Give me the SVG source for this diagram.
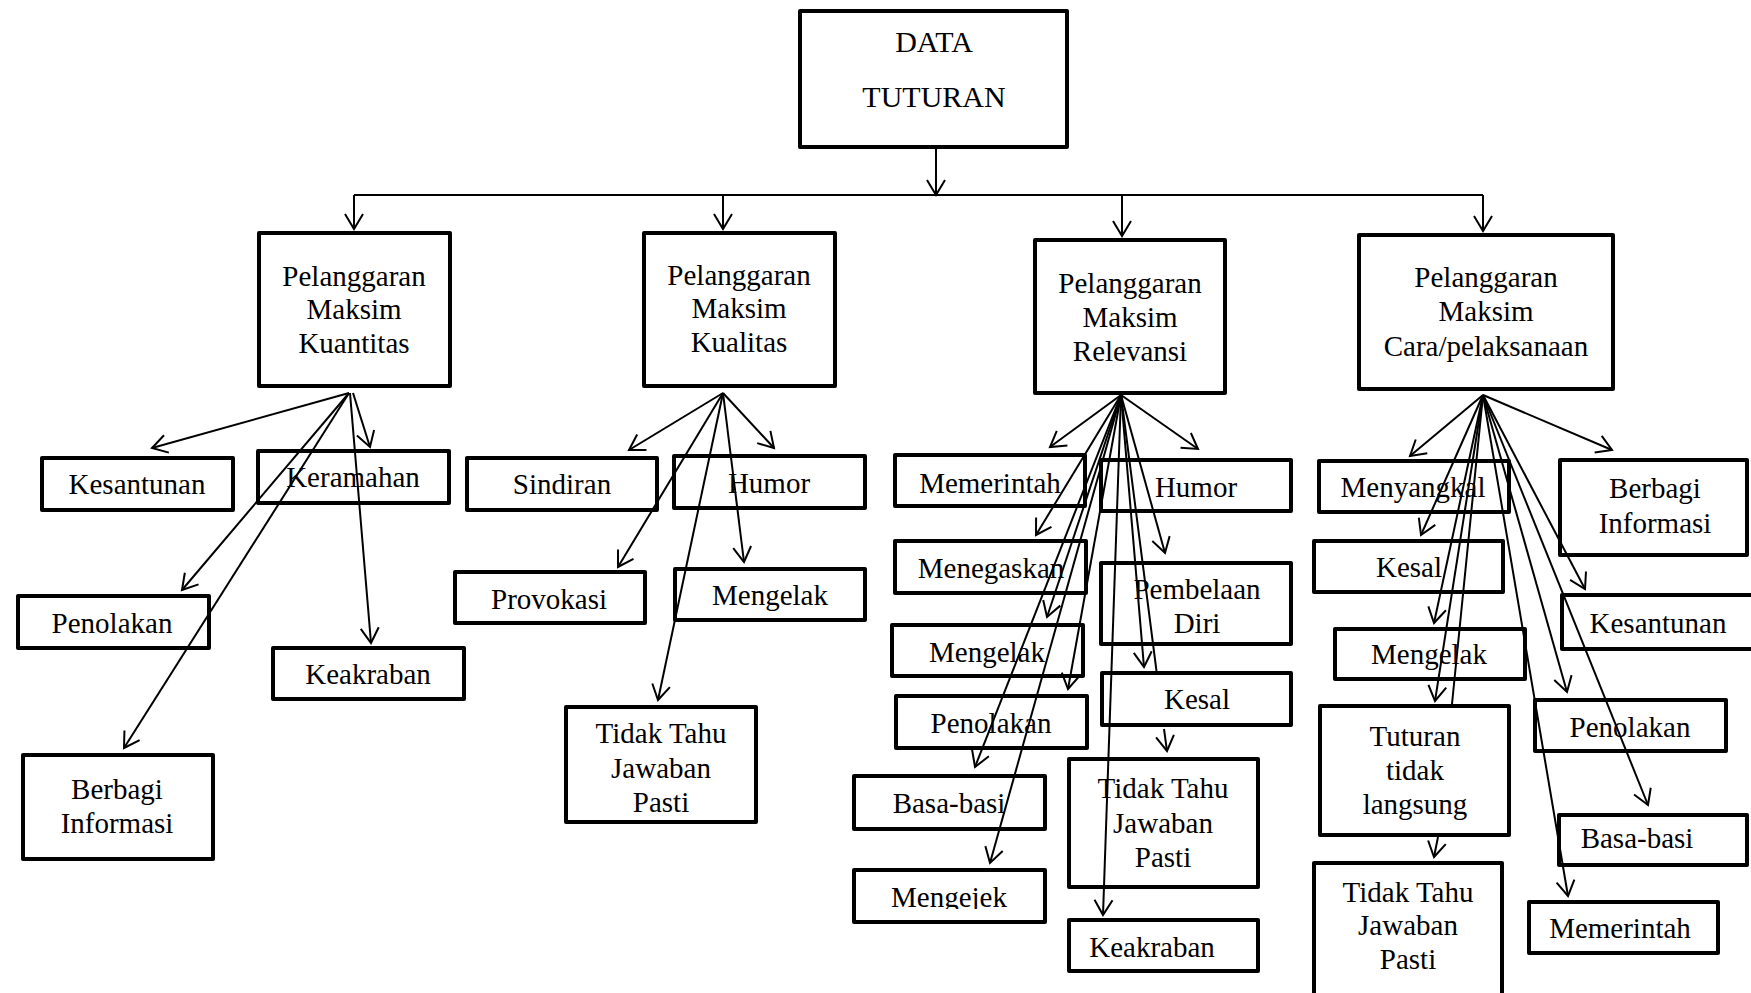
<svg xmlns="http://www.w3.org/2000/svg" width="1751" height="993" viewBox="0 0 1751 993">
<style>
.box{fill:#fff;stroke:#000;stroke-width:4;stroke-linejoin:round}
.t{font-family:"Liberation Serif","Times New Roman",serif;font-size:29px;fill:#000;text-anchor:middle}
.big{font-size:30px}
.c{fill:none;stroke:#000;stroke-width:2;marker-end:url(#ah)}
.hl{fill:none;stroke:#000;stroke-width:2}
</style>
<defs>
<marker id="ah" markerUnits="userSpaceOnUse" markerWidth="30" markerHeight="30" viewBox="-20 -15 30 30" refX="0" refY="0" orient="auto" overflow="visible">
<path d="M-15,-9 L0,0 L-15,9" fill="none" stroke="#000" stroke-width="2"/>
</marker>
<clipPath id="clipMengejek"><rect x="854" y="870" width="191" height="39"/></clipPath>
</defs>

<g id="root"><rect class="box" x="800" y="11" width="267" height="136"/>
<text class="t big" x="934" y="52">DATA</text><text class="t big" x="934" y="107">TUTURAN</text></g>

<g id="kuantitas"><rect class="box" x="259" y="233" width="191" height="153"/>
<text class="t" x="354" y="286">Pelanggaran</text><text class="t" x="354" y="319">Maksim</text><text class="t" x="354" y="353">Kuantitas</text></g>
<g id="kualitas"><rect class="box" x="644" y="233" width="191" height="153"/>
<text class="t" x="739" y="285">Pelanggaran</text><text class="t" x="739" y="318">Maksim</text><text class="t" x="739" y="352">Kualitas</text></g>
<g id="relevansi"><rect class="box" x="1035" y="240" width="190" height="153"/>
<text class="t" x="1130" y="293">Pelanggaran</text><text class="t" x="1130" y="327">Maksim</text><text class="t" x="1130" y="361">Relevansi</text></g>
<g id="cara"><rect class="box" x="1359" y="235" width="254" height="154"/>
<text class="t" x="1486" y="287">Pelanggaran</text><text class="t" x="1486" y="321">Maksim</text><text class="t" x="1486" y="356">Cara/pelaksanaan</text></g>

<g id="k1-kesantunan"><rect class="box" x="42" y="458" width="191" height="52"/><text class="t" x="137" y="494">Kesantunan</text></g>
<g id="k1-keramahan"><rect class="box" x="258" y="451" width="191" height="52"/><text class="t" x="353" y="487">Keramahan</text></g>
<g id="k1-penolakan"><rect class="box" x="18" y="596" width="191" height="52"/><text class="t" x="112" y="633">Penolakan</text></g>
<g id="k1-keakraban"><rect class="box" x="273" y="648" width="191" height="51"/><text class="t" x="368" y="684">Keakraban</text></g>
<g id="k1-berbagi"><rect class="box" x="23" y="755" width="190" height="104"/><text class="t" x="117" y="799">Berbagi</text><text class="t" x="117" y="833">Informasi</text></g>

<g id="k2-sindiran"><rect class="box" x="467" y="458" width="190" height="52"/><text class="t" x="562" y="494">Sindiran</text></g>
<g id="k2-humor"><rect class="box" x="674" y="456" width="191" height="52"/><text class="t" x="769" y="493">Humor</text></g>
<g id="k2-provokasi"><rect class="box" x="455" y="572" width="190" height="51"/><text class="t" x="549" y="609">Provokasi</text></g>
<g id="k2-mengelak"><rect class="box" x="675" y="569" width="190" height="51"/><text class="t" x="770" y="605">Mengelak</text></g>
<g id="k2-tidaktahu"><rect class="box" x="566" y="707" width="190" height="115"/><text class="t" x="661" y="743">Tidak Tahu</text><text class="t" x="661" y="778">Jawaban</text><text class="t" x="661" y="812">Pasti</text></g>

<g id="k3-memerintah"><rect class="box" x="895" y="455" width="190" height="51"/><text class="t" x="990" y="493">Memerintah</text></g>
<g id="k3-humor"><rect class="box" x="1101" y="460" width="190" height="51"/><text class="t" x="1196" y="497">Humor</text></g>
<g id="k3-menegaskan"><rect class="box" x="895" y="541" width="191" height="52"/><text class="t" x="991" y="578">Menegaskan</text></g>
<g id="k3-pembelaan"><rect class="box" x="1101" y="563" width="190" height="81"/><text class="t" x="1197" y="599">Pembelaan</text><text class="t" x="1197" y="633">Diri</text></g>
<g id="k3-mengelak"><rect class="box" x="892" y="625" width="191" height="51"/><text class="t" x="987" y="662">Mengelak</text></g>
<g id="k3-kesal"><rect class="box" x="1102" y="673" width="189" height="52"/><text class="t" x="1197" y="709">Kesal</text></g>
<g id="k3-penolakan"><rect class="box" x="896" y="696" width="191" height="52"/><text class="t" x="991" y="733">Penolakan</text></g>
<g id="k3-basabasi"><rect class="box" x="854" y="776" width="191" height="53"/><text class="t" x="949" y="813">Basa-basi</text></g>
<g id="k3-mengejek"><rect class="box" x="854" y="870" width="191" height="52"/><text class="t" x="949" y="907" clip-path="url(#clipMengejek)">Mengejek</text></g>
<g id="k3-tidaktahu"><rect class="box" x="1069" y="759" width="189" height="128"/><text class="t" x="1163" y="798">Tidak Tahu</text><text class="t" x="1163" y="833">Jawaban</text><text class="t" x="1163" y="867">Pasti</text></g>
<g id="k3-keakraban"><rect class="box" x="1069" y="920" width="189" height="51"/><text class="t" x="1152" y="957">Keakraban</text></g>

<g id="k4-menyangkal"><rect class="box" x="1319" y="461" width="190" height="51"/><text class="t" x="1413" y="497">Menyangkal</text></g>
<g id="k4-berbagi"><rect class="box" x="1560" y="460" width="187" height="95"/><text class="t" x="1655" y="498">Berbagi</text><text class="t" x="1655" y="533">Informasi</text></g>
<g id="k4-kesal"><rect class="box" x="1314" y="541" width="189" height="51"/><text class="t" x="1409" y="577">Kesal</text></g>
<g id="k4-kesantunan"><rect class="box" x="1562" y="595" width="200" height="54"/><text class="t" x="1658" y="633">Kesantunan</text></g>
<g id="k4-mengelak"><rect class="box" x="1335" y="629" width="190" height="50"/><text class="t" x="1429" y="664">Mengelak</text></g>
<g id="k4-penolakan"><rect class="box" x="1535" y="700" width="191" height="51"/><text class="t" x="1630" y="737">Penolakan</text></g>
<g id="k4-basabasi"><rect class="box" x="1559" y="815" width="188" height="50"/><text class="t" x="1637" y="848">Basa-basi</text></g>
<g id="k4-memerintah"><rect class="box" x="1529" y="902" width="189" height="51"/><text class="t" x="1620" y="938">Memerintah</text></g>
<g id="k4-tuturan"><rect class="box" x="1320" y="706" width="189" height="129"/><text class="t" x="1415" y="746">Tuturan</text><text class="t" x="1415" y="780">tidak</text><text class="t" x="1415" y="814">langsung</text></g>
<g id="k4-tidaktahu"><rect class="box" x="1314" y="863" width="188" height="140"/><text class="t" x="1408" y="902">Tidak Tahu</text><text class="t" x="1408" y="935">Jawaban</text><text class="t" x="1408" y="969">Pasti</text></g>

<g id="connectors">
<path class="c" d="M936,149 L936,195"/>
<path class="hl" d="M354,195 L1483,195"/>
<path class="c" d="M354,195 L354,229"/>
<path class="c" d="M723,195 L723,229"/>
<path class="c" d="M1122,195 L1122,236"/>
<path class="c" d="M1483,195 L1483,231"/>
<path class="c" d="M349,393 L152,448"/>
<path class="c" d="M353,393 L370,447"/>
<path class="c" d="M349,393 L182,590"/>
<path class="c" d="M349,393 L124,748"/>
<path class="c" d="M350,393 L371,643"/>
<path class="c" d="M723,393 L629,450"/>
<path class="c" d="M723,393 L774,448"/>
<path class="c" d="M723,393 L618,567"/>
<path class="c" d="M723,393 L744,562"/>
<path class="c" d="M723,393 L658,700"/>
<path class="c" d="M1121,395 L1050,447"/>
<path class="c" d="M1121,395 L1198,449"/>
<path class="c" d="M1121,395 L1036,535"/>
<path class="c" d="M1121,395 L1165,553"/>
<path class="c" d="M1121,395 L1047,617"/>
<path class="c" d="M1121,395 L1144,667"/>
<path class="c" d="M1121,395 L1068,689"/>
<path class="c" d="M1121,395 L975,767"/>
<path class="c" d="M1121,395 L990,863"/>
<path class="c" d="M1121,395 L1103,915"/>
<path class="c" d="M1121,395 L1156.5,671 M1164,729 L1167,751"/>
<path class="c" d="M1483,395 L1410,456"/>
<path class="c" d="M1483,395 L1612,450"/>
<path class="c" d="M1483,395 L1421,535"/>
<path class="c" d="M1483,395 L1585,589"/>
<path class="c" d="M1483,395 L1434,623"/>
<path class="c" d="M1483,395 L1435,701"/>
<path class="c" d="M1483,395 L1567,692"/>
<path class="c" d="M1483,395 L1648,805"/>
<path class="c" d="M1483,395 L1568,896"/>
<path class="c" d="M1483,395 L1452,704 M1438,837 L1434,857"/>
</g>
</svg>
